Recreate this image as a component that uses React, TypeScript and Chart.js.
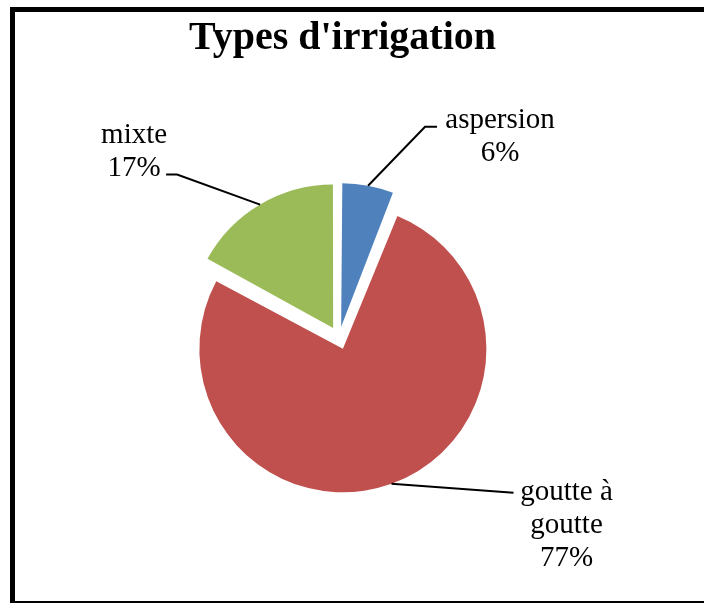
import React, { useEffect, useRef } from 'react';
import { Chart, registerables } from 'chart.js';

Chart.register(...registerables);

const title = "Types d'irrigation";
const categories = ['aspersion', 'goutte à goutte', 'mixte'];
const labelLines = [['aspersion'], ['goutte à', 'goutte'], ['mixte']];
const values = [6, 77, 17];
const colors = ['#4F81BD', '#C0504D', '#9BBB59'];

const RADIUS = 143.5;
const EXPLODE = 11.5; // visual explosion distance in px
const ARC_OFFSET = EXPLODE * 4; // Chart.js translates by offset / 4
const LINE_H = 33;

// leader path points and text positions, relative to the slice's outer anchor point
const labelLayout = [
  { path: [[57, -59], [69, -59]], tx: 132, ty: -58 },
  { path: [[122, 9]], tx: 175, ty: 16 },
  { path: [[-83, -30], [-94, -30]], tx: -126, ty: -62 },
];

const decorPlugin = {
  id: 'decor',
  afterDatasetsUpdate(chart: any) {
    const meta = chart.getDatasetMeta(0);
    meta.data.forEach((arc: any) => {
      const circ = arc.circumference;
      const fix = 1 - Math.sin(Math.min(Math.PI, circ || 0));
      arc.outerRadius = RADIUS - (ARC_OFFSET / 4) * fix;
    });
  },
  beforeDraw(chart: any) {
    const ctx = chart.ctx;
    ctx.save();
    ctx.fillStyle = '#ffffff';
    ctx.fillRect(0, 0, chart.width, chart.height);
    ctx.strokeStyle = '#000000';
    ctx.lineWidth = 5;
    ctx.strokeRect(12.5, 9.5, 720, 594);
    ctx.restore();
  },
  afterDraw(chart: any) {
    const ctx = chart.ctx;
    ctx.save();
    ctx.fillStyle = '#000';
    ctx.textAlign = 'center';
    ctx.textBaseline = 'alphabetic';
    ctx.font = 'bold 40px "Liberation Serif"';
    ctx.fillText(title, 342.5, 49);

    const meta = chart.getDatasetMeta(0);
    const total = values.reduce((a, b) => a + b, 0);
    ctx.font = '29px "Liberation Serif"';
    ctx.strokeStyle = '#000';
    ctx.lineWidth = 2;
    meta.data.forEach((arc: any, i: number) => {
      const mid = (arc.startAngle + arc.endAngle) / 2;
      const r = RADIUS + EXPLODE;
      const ax = arc.x + Math.cos(mid) * r;
      const ay = arc.y + Math.sin(mid) * r;
      const lay = labelLayout[i];
      ctx.beginPath();
      ctx.moveTo(ax, ay);
      lay.path.forEach((p) => ctx.lineTo(ax + p[0], ay + p[1]));
      ctx.stroke();
      const lines = [...labelLines[i], Math.round((values[i] / total) * 100) + '%'];
      lines.forEach((t, k) => {
        ctx.fillText(t, ax + lay.tx, ay + lay.ty + k * LINE_H);
      });
    });
    ctx.restore();
  },
};

export default function App() {
  const ref = useRef<HTMLCanvasElement | null>(null);
  useEffect(() => {
    if (!ref.current) return;
    const chart = new Chart(ref.current, {
      type: 'pie',
      data: {
        labels: categories,
        datasets: [
          {
            data: values,
            backgroundColor: colors,
            borderWidth: 0,
            offset: ARC_OFFSET,
            hoverOffset: 0,
          },
        ],
      },
      options: {
        animation: false,
        responsive: false,
        devicePixelRatio: 1,
        radius: RADIUS,
        layout: { padding: { left: 189, right: 215, top: 188, bottom: 115 } },
        plugins: {
          legend: { display: false },
          title: { display: false },
          tooltip: { enabled: false },
        },
      },
      plugins: [decorPlugin],
    });
    return () => chart.destroy();
  }, []);
  return (
    <div style={{ position: 'fixed', left: 0, top: 0, width: 704, height: 603, background: '#fff' }}>
      <canvas ref={ref} width={704} height={603} style={{ display: 'block' }} />
    </div>
  );
}
